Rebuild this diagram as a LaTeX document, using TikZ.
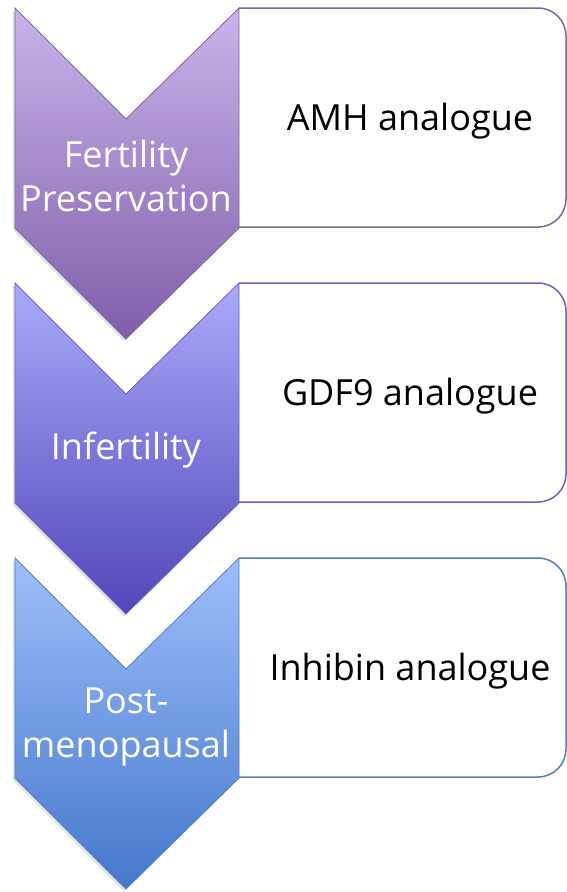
\documentclass[tikz,border=0pt]{standalone}
\usepackage{fontspec}
\setmainfont{Open Sans}
\usetikzlibrary{shadows}
\definecolor{violaSu}{HTML}{C9B4EA}
\definecolor{violaGiu}{HTML}{7F5EA9}
\definecolor{violaBordo}{HTML}{8064A2}
\definecolor{indacoSu}{HTML}{AAAAFA}
\definecolor{indacoGiu}{HTML}{4F47B8}
\definecolor{indacoBordo}{HTML}{6664C4}
\definecolor{bluSu}{HTML}{9EBEFA}
\definecolor{bluGiu}{HTML}{4577CB}
\definecolor{bluBordo}{HTML}{4F81BD}
\begin{document}
\begin{tikzpicture}[x=1pt,y=-1pt,
    freccia/.style={line width=0.8pt,drop shadow={opacity=0.25,shadow xshift=-2pt,shadow yshift=-2pt}},
    riquadro/.style={line width=1.5pt,rounded corners=28pt},
    testofreccia/.style={text=white,align=center,font=\fontsize{36}{44}\selectfont},
    testoriquadro/.style={text=black,anchor=base,font=\fontsize{36}{44}\selectfont}]
    \useasboundingbox (0,0) rectangle (567,892);
    % Riquadri
    \draw [riquadro,violaBordo] (239,8) -- (566,8) -- (566,227) -- (239,227);
    \draw [riquadro,indacoBordo] (239,283) -- (566,283) -- (566,502) -- (239,502);
    \draw [riquadro,bluBordo] (239,558) -- (566,558) -- (566,777) -- (239,777);
    % Frecce
    \shade [freccia,draw=violaBordo,top color=violaSu,bottom color=violaGiu]
        (15,8) -- (126,119) -- (239,8) -- (239,228) -- (126,339) -- (15,228) -- cycle;
    \shade [freccia,draw=indacoBordo,top color=indacoSu,bottom color=indacoGiu]
        (15,283) -- (126,394) -- (239,283) -- (239,503) -- (126,614) -- (15,503) -- cycle;
    \shade [freccia,draw=bluBordo,top color=bluSu,bottom color=bluGiu]
        (15,558) -- (126,669) -- (239,558) -- (239,778) -- (126,889) -- (15,778) -- cycle;
    % Testi
    \node [testofreccia] (fertilita) at (126,176) {Fertility\\Preservation};
    \node [testofreccia] (infertilita) at (126,450) {Infertility};
    \node [testofreccia] (menopausa) at (126,727) {Post-\\menopausal};
    \node [testoriquadro] (amh) at (410,130) {AMH analogue};
    \node [testoriquadro] (gdf) at (410,405) {GDF9 analogue};
    \node [testoriquadro] (inibina) at (410,680) {Inhibin analogue};
\end{tikzpicture}
\end{document}
